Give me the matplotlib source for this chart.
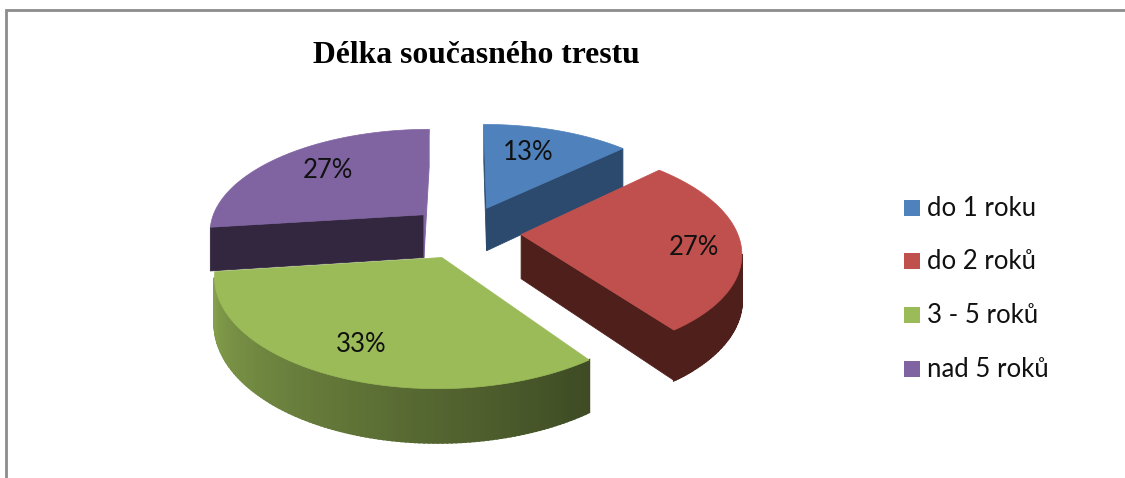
import numpy as np
import matplotlib
matplotlib.use('Agg')
import matplotlib.pyplot as plt
from matplotlib.patches import Polygon, Rectangle

title = 'Délka současného trestu'
categories = ['do 1 roku', 'do 2 roků', '3 - 5 roků', 'nad 5 roků']
values = [13, 27, 33, 27]

top_colors = ['#4F81BD', '#C0504D', '#9BBB59', '#8064A2']
wall_colors = ['#2C4A6E', '#4F1F1C', '#3E4A20', '#33263F']

# pie camera, in pixels
cx, cy = 465, 232
rx, ry = 216, 103
persp = 0.15
depth = 44
explode = 0.26

fig = plt.figure(figsize=(11.25, 4.78), dpi=100)
ax = fig.add_axes([0, 0, 1, 1])
ax.set_xlim(0, 1125)
ax.set_ylim(478, 0)
ax.axis('off')


def project(u, v, drop=0):
    s = 1 / (1 + persp * v)
    return cx + rx * u * s, cy - ry * v * s + drop * depth * s


def mix(color, factor):
    c = np.array(matplotlib.colors.to_rgb(color))
    return tuple(c * factor)


def quad(p0, p1, p2, p3, color, z, lw=0.6):
    # only walls facing the viewer are drawn
    pts = np.array([p0, p1, p2, p3])
    x, y = pts[:, 0], pts[:, 1]
    area = np.sum(x * np.roll(y, -1) - np.roll(x, -1) * y)
    if area < 0:
        ax.add_patch(Polygon(pts, closed=True, fc=color, ec=color, lw=lw, zorder=z))


total = sum(values)
shares = np.cumsum([0] + values) / total * 360

# back to front: purple, blue, red, green
order = [3, 0, 1, 2]
for z, i in enumerate(order):
    a0, a1 = np.radians(shares[i]), np.radians(shares[i + 1])
    mid = (a0 + a1) / 2
    ou, ov = explode * np.sin(mid), explode * np.cos(mid)
    t = np.linspace(a0, a1, 120)
    u = ou + np.sin(t)
    v = ov + np.cos(t)
    base = z * 10

    # radial walls, the thin sliver on the purple slice stays light
    tip_top, tip_bot = project(ou, ov), project(ou, ov, 1)
    end_color = top_colors[i] if i == 3 else wall_colors[i]
    quad(tip_top, project(u[0], v[0]), project(u[0], v[0], 1), tip_bot, wall_colors[i], base)
    quad(project(u[-1], v[-1]), tip_top, tip_bot, project(u[-1], v[-1], 1), end_color, base)

    # outer wall, green one fades to the left
    for k in range(len(t) - 1):
        if i == 2:
            f = (t[k] - t[0]) / (t[-1] - t[0])
            color = mix(top_colors[i], 0.40 + 0.47 * f)
        else:
            color = wall_colors[i]
        quad(project(u[k], v[k]), project(u[k + 1], v[k + 1]),
             project(u[k + 1], v[k + 1], 1), project(u[k], v[k], 1), color, base + 1, lw=1.5)

    # top face
    xs, ys = project(u, v)
    tx, ty = project(ou, ov)
    ax.add_patch(Polygon(np.column_stack([np.r_[tx, xs], np.r_[ty, ys]]), closed=True,
                         fc=top_colors[i], ec=top_colors[i], lw=0.5, zorder=base + 2))

# data labels
label_xy = [(528, 152), (694, 247), (361, 344), (328, 170)]
for val, (lx, ly) in zip(values, label_xy):
    ax.text(lx, ly, f'{val}%', ha='center', va='center', family='Lato',
            fontsize=18.5, color='#111111', zorder=100)

ax.text(476, 55.5, title, ha='center', va='center', family='Liberation Serif',
        fontweight='bold', fontsize=22.8, color='black')

# legend
legend_y = [207.5, 261, 315, 369]
for name, col, ly in zip(categories, top_colors, legend_y):
    ax.add_patch(Rectangle((904, ly - 8), 16, 16, fc=col, ec='none'))
    ax.text(927, ly + 8, name, ha='left', va='baseline', family='Lato', fontsize=18.5, color='#111111')

# chart frame, runs off the crop on the right and bottom
ax.plot([6, 6, 1125], [478, 10, 10], color='#8C8C8C', lw=2, solid_joinstyle='miter')

fig.savefig('out.png', dpi=100)
